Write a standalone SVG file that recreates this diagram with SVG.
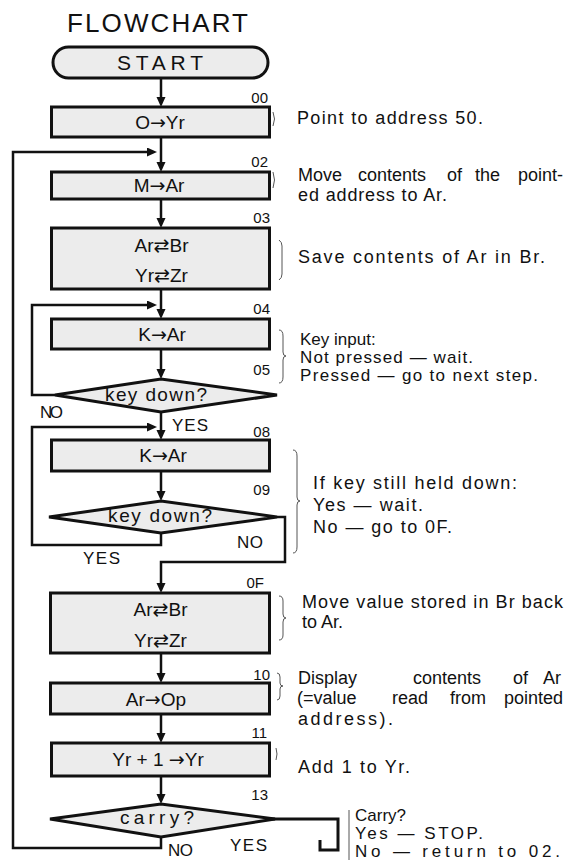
<svg xmlns="http://www.w3.org/2000/svg" width="573" height="862" viewBox="0 0 573 862">
<defs>
<marker id="ah" markerUnits="userSpaceOnUse" markerWidth="12" markerHeight="10" refX="5" refY="4.5" orient="auto">
<path d="M0,0 L10,4.5 L0,9 z" fill="#111"/>
</marker>
</defs>
<style>
text{font-family:"Liberation Sans","DejaVu Sans",sans-serif;fill:#111}
.ar{font-family:"DejaVu Sans",sans-serif}
.title{font-size:26px}
.box{fill:#ececec;stroke:#111;stroke-width:3}
.bt{font-size:19px}
.dt{font-size:19px}
.num{font-size:15px;text-anchor:end}
.note{font-size:18px}
.tight{font-size:17px}
.yn{font-size:17px}
.con{fill:none;stroke:#111;stroke-width:2.5}
.hook{fill:none;stroke:#111;stroke-width:3}
.br{fill:none;stroke:#555;stroke-width:1}
</style>
<rect width="573" height="862" fill="#fff"/>
<text class="title" x="67" y="32" textLength="181" lengthAdjust="spacing">FLOWCHART</text>

<g id="connectors">
<path class="con" d="M161,78 V102" marker-end="url(#ah)"/>
<path class="con" d="M161,137 V167" marker-end="url(#ah)"/>
<path class="con" d="M161,837 V848 H13 V152 H152" marker-end="url(#ah)"/>
<path class="con" d="M161,199 V223" marker-end="url(#ah)"/>
<path class="con" d="M161,289 V314" marker-end="url(#ah)"/>
<path class="con" d="M55,395 H32 V305 H152" marker-end="url(#ah)"/>
<path class="con" d="M161,349 V374" marker-end="url(#ah)"/>
<path class="con" d="M161,412 V435" marker-end="url(#ah)"/>
<path class="con" d="M161,533 V545 H32 V427 H152" marker-end="url(#ah)"/>
<path class="con" d="M161,471 V496" marker-end="url(#ah)"/>
<path class="con" d="M277,517 H285 V562 H161 V588" marker-end="url(#ah)"/>
<path class="con" d="M161,653 V678" marker-end="url(#ah)"/>
<path class="con" d="M161,714 V738" marker-end="url(#ah)"/>
<path class="con" d="M161,776 V799" marker-end="url(#ah)"/>
<path class="hook" d="M272,819 H338 V850 H320 V840"/>
</g>

<g id="start">
<rect class="box" x="53" y="47" width="215" height="31" rx="15.5"/>
<text x="117" y="70" style="font-size:21px" textLength="86" lengthAdjust="spacing">START</text>
</g>

<g id="n00">
<rect class="box" x="51.5" y="107" width="218" height="30"/>
<text class="bt" x="160" y="129" text-anchor="middle">O<tspan class="ar">→</tspan>Yr</text>
<text class="num" x="268" y="103">00</text>
</g>

<g id="n02">
<rect class="box" x="51.5" y="172" width="218" height="27"/>
<text class="bt" x="159" y="192" text-anchor="middle">M<tspan class="ar">→</tspan>Ar</text>
<text class="num" x="268" y="167">02</text>
</g>

<g id="n03">
<rect class="box" x="51.5" y="228" width="218" height="61"/>
<text class="bt" x="161.5" y="252" text-anchor="middle">Ar<tspan class="ar">⇄</tspan>Br</text>
<text class="bt" x="161.5" y="282" text-anchor="middle">Yr<tspan class="ar">⇄</tspan>Zr</text>
<text class="num" x="270" y="223">03</text>
</g>

<g id="n04">
<rect class="box" x="51.5" y="319" width="218" height="30"/>
<text class="bt" x="162" y="341" text-anchor="middle">K<tspan class="ar">→</tspan>Ar</text>
<text class="num" x="270" y="314">04</text>
</g>

<g id="n05">
<polygon class="box" points="55,395 161,379 277,395 161,412"/>
<text class="dt" x="105" y="401" textLength="102" lengthAdjust="spacing">key down?</text>
<text class="num" x="270" y="375">05</text>
<text class="yn" x="40" y="418" textLength="23" lengthAdjust="spacing">NO</text>
<text class="yn" x="172" y="431" textLength="36" lengthAdjust="spacing">YES</text>
</g>

<g id="n08">
<rect class="box" x="51.5" y="440" width="218" height="31"/>
<text class="bt" x="163" y="462" text-anchor="middle">K<tspan class="ar">→</tspan>Ar</text>
<text class="num" x="270" y="437">08</text>
</g>

<g id="n09">
<polygon class="box" points="49,517 161,501 277,517 161,533"/>
<text class="dt" x="108" y="522" textLength="104" lengthAdjust="spacing">key down?</text>
<text class="num" x="270" y="495">09</text>
<text class="yn" x="237" y="548" textLength="26" lengthAdjust="spacing">NO</text>
<text class="yn" x="83" y="564" textLength="37" lengthAdjust="spacing">YES</text>
</g>

<g id="n0F">
<rect class="box" x="50.5" y="593" width="219" height="60"/>
<text class="bt" x="160.5" y="616" text-anchor="middle">Ar<tspan class="ar">⇄</tspan>Br</text>
<text class="bt" x="160.5" y="647" text-anchor="middle">Yr<tspan class="ar">⇄</tspan>Zr</text>
<text class="num" x="264" y="588">0F</text>
</g>

<g id="n10">
<rect class="box" x="50.5" y="683" width="219" height="31"/>
<text class="bt" x="156" y="706" text-anchor="middle">Ar<tspan class="ar">→</tspan>Op</text>
<text class="num" x="270" y="680">10</text>
</g>

<g id="n11">
<rect class="box" x="51.5" y="743" width="218" height="33"/>
<text class="bt" x="158" y="766" text-anchor="middle">Yr + 1 <tspan class="ar">→</tspan>Yr</text>
<text class="num" x="267" y="738">11</text>
</g>

<g id="n13">
<polygon class="box" points="50,819 161,804 275,819 161,837"/>
<text class="dt" x="120" y="824" textLength="74" lengthAdjust="spacing">carry?</text>
<text class="num" x="268" y="800">13</text>
<text class="yn" x="168" y="856" textLength="25" lengthAdjust="spacing">NO</text>
<text class="yn" x="230" y="851" textLength="37" lengthAdjust="spacing">YES</text>
</g>

<g id="notes">
<path class="br" d="M273,112 q3,7 0,14"/>
<path class="br" d="M273,172 q3,8 0,16"/>
<path class="br" d="M279,240 q3,2 3,6 V274 q0,4 -3,6"/>
<path class="br" d="M279,330 q4,0 4,6 V352 q0,4 3,4 q-3,0 -3,4 V377 q0,6 -4,6"/>
<path class="br" d="M293,450 q4,0 4,6 V497 q0,4 3,4 q-3,0 -3,4 V547 q0,6 -4,6"/>
<path class="br" d="M279,596 q4,0 4,5 V614 q0,4 3,4 q-3,0 -3,4 V635 q0,5 -4,5"/>
<path class="br" d="M277,673 q3,0 3,4 V683 q0,3 3,3 q-3,0 -3,3 V696 q0,4 -3,4"/>
<path class="br" d="M276,748 q2,6 0,12"/>
<path class="br" d="M349,810 V860"/>

<text class="note" x="297" y="124" textLength="186" lengthAdjust="spacing">Point to address 50.</text>
<text class="note" y="181"><tspan x="298">Move</tspan><tspan x="358">contents</tspan><tspan x="447">of</tspan><tspan x="475">the</tspan><tspan x="518">point-</tspan></text>
<text class="note" x="298" y="201" textLength="149" lengthAdjust="spacing">ed address to Ar.</text>
<text class="note" x="298" y="263" textLength="247" lengthAdjust="spacing">Save contents of Ar in Br.</text>
<text class="tight" x="300" y="345">Key input:</text>
<text class="tight" x="300" y="363" textLength="173" lengthAdjust="spacing">Not pressed — wait.</text>
<text class="tight" x="300" y="381" textLength="238" lengthAdjust="spacing">Pressed — go to next step.</text>
<text class="note" x="313" y="489" textLength="204" lengthAdjust="spacing">If key still held down:</text>
<text class="note" x="313" y="511" textLength="110" lengthAdjust="spacing">Yes — wait.</text>
<text class="note" x="313" y="533" textLength="139" lengthAdjust="spacing">No — go to 0F.</text>
<text class="note" x="302" y="608" textLength="261" lengthAdjust="spacing">Move value stored in Br back</text>
<text class="note" x="302" y="628">to Ar.</text>
<text class="note" y="684"><tspan x="298">Display</tspan><tspan x="413">contents</tspan><tspan x="513">of</tspan><tspan x="543">Ar</tspan></text>
<text class="note" y="704"><tspan x="297">(=value</tspan><tspan x="392">read</tspan><tspan x="450">from</tspan><tspan x="504">pointed</tspan></text>
<text class="note" x="298" y="725" textLength="95" lengthAdjust="spacing">address).</text>
<text class="note" x="298" y="773" textLength="112" lengthAdjust="spacing">Add 1 to Yr.</text>
<text class="tight" x="355" y="821">Carry?</text>
<text class="tight" x="355" y="839" textLength="128" lengthAdjust="spacing">Yes — STOP.</text>
<text class="tight" x="355" y="857" textLength="205" lengthAdjust="spacing">No — return to 02.</text>
</g>
</svg>
